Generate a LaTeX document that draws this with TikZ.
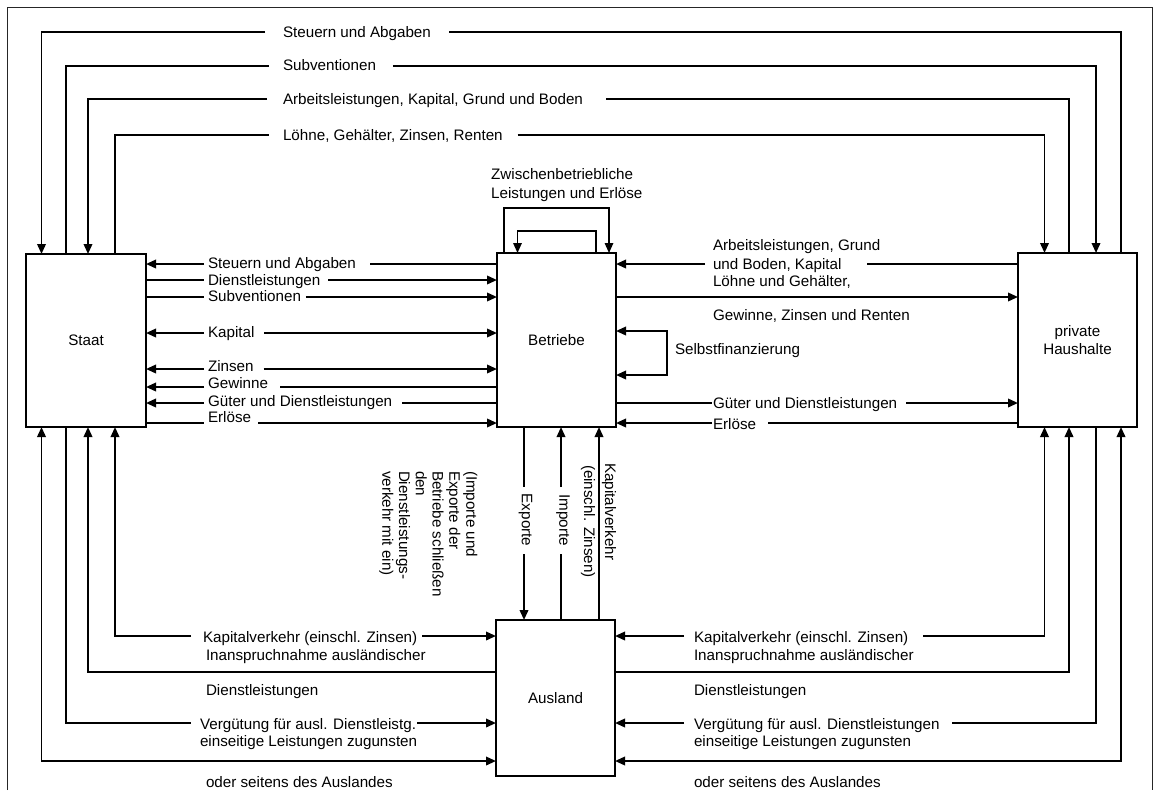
\documentclass[tikz,border=0pt]{standalone}
\usepackage{fontspec}
\setmainfont{Liberation Sans}
\usetikzlibrary{arrows.meta}
\begin{document}
\begin{tikzpicture}[x=1pt,y=-1pt,
  font=\fontsize{15.2}{18.7}\selectfont,
  thn/.style={line width=1.25pt},
  thk/.style={line width=1.95pt},
  arr/.style={thk,-{Triangle[length=10pt,width=8.5pt]}},
  barr/.style={thk,{Triangle[length=10pt,width=8.5pt]}-{Triangle[length=10pt,width=8.5pt]}},
  box/.style={draw,line width=1.3pt,inner sep=0pt,outer sep=0pt,align=center},
  lab/.style={inner sep=0pt,outer sep=0pt,anchor=west,text height=10.9pt,text depth=0pt},
  vlab/.style={inner sep=0pt,outer sep=0pt,rotate=-90},
]
\useasboundingbox (0,0) rectangle (1158,790);
% frame (open at the bottom)
\draw[line width=1.1pt, black!85] (7.5,790) -- (7.5,7.5) -- (1152.5,7.5) -- (1152.5,790);

% boxes
\node[box,minimum width=120pt,minimum height=173pt] (staat) at (86,340.5) {Staat};
\node[box,minimum width=119pt,minimum height=174pt] (betr) at (556.5,340) {Betriebe};
\node[box,minimum width=119pt,minimum height=174pt] (hh) at (1077.5,340) {private\\Haushalte};
\node[box,minimum width=119pt,minimum height=156pt] (ausl) at (555.5,698) {Ausland};

% columns
\coordinate (cA) at (41.5,0);  \coordinate (cB) at (66,0);
\coordinate (cC) at (88,0);    \coordinate (cD) at (115,0);
\coordinate (hA) at (1044.5,0); \coordinate (hB) at (1069,0);
\coordinate (hC) at (1096,0);  \coordinate (hD) at (1121,0);
\coordinate (zA) at (504,0);   \coordinate (zB) at (517.5,0);
\coordinate (zC) at (596,0);   \coordinate (zD) at (609,0);
\coordinate (eX) at (524,0);   \coordinate (iM) at (561,0);
\coordinate (kV) at (599,0);   \coordinate (sx) at (667,0);
% rows
\coordinate (r1) at (0,32);  \coordinate (r2) at (0,66);
\coordinate (r3) at (0,99);  \coordinate (r4) at (0,135);
\coordinate (m1) at (0,264); \coordinate (m2) at (0,280);
\coordinate (m3) at (0,297); \coordinate (m4) at (0,333);
\coordinate (m5) at (0,369); \coordinate (m6) at (0,387);
\coordinate (m7) at (0,403); \coordinate (m8) at (0,423);
\coordinate (s1) at (0,331); \coordinate (s2) at (0,375);
\coordinate (b1) at (0,636); \coordinate (b2) at (0,672);
\coordinate (b3) at (0,723); \coordinate (b4) at (0,761);

% ---- top: Staat <-> private Haushalte
\node[lab] (t1) at (283,32) {Steuern und Abgaben};
\draw[thn] (hh.north -| hD) |- ([xshift=18pt]t1.east |- r1);
\draw[arr] ([xshift=-18pt]t1.west |- r1) -| (staat.north -| cA);

\node[lab] (t2) at (283,65.5) {Subventionen};
\draw[thn] (staat.north -| cB) |- ([xshift=-14pt]t2.west |- r2);
\draw[arr] ([xshift=17pt]t2.east |- r2) -| (hh.north -| hC);

\node[lab] (t3) at (283,99.5) {Arbeitsleistungen, Kapital, Grund und Boden};
\draw[thn] (hh.north -| hB) |- ([xshift=23pt]t3.east |- r3);
\draw[arr] ([xshift=-16pt]t3.west |- r3) -| (staat.north -| cC);

\node[lab] (t4) at (283,134.7) {Löhne, Gehälter, Zinsen, Renten};
\draw[thn] (staat.north -| cD) |- ([xshift=-14pt]t4.west |- r4);
\draw[arr] ([xshift=15pt]t4.east |- r4) -| (hh.north -| hA);

% ---- Staat <-> Betriebe
\node[lab] (sb1) at (208,263) {Steuern und Abgaben};
\draw[arr] ([xshift=-4pt]sb1.west |- m1) -- (staat.east |- m1);
\draw[thn] (betr.west |- m1) -- ([xshift=14pt]sb1.east |- m1);

\node[lab] (sb2) at (208,280) {Dienstleistungen};
\draw[thn] (staat.east |- m2) -- ([xshift=-4pt]sb2.west |- m2);
\draw[arr] ([xshift=8pt]sb2.east |- m2) -- (betr.west |- m2);

\node[lab] (sb3) at (208,296) {Subventionen};
\draw[thn] (staat.east |- m3) -- ([xshift=-4pt]sb3.west |- m3);
\draw[arr] ([xshift=5pt]sb3.east |- m3) -- (betr.west |- m3);

\node[lab] (sb4) at (208,332) {Kapital};
\draw[arr] ([xshift=-4pt]sb4.west |- m4) -- (staat.east |- m4);
\draw[arr] ([xshift=10pt]sb4.east |- m4) -- (betr.west |- m4);

\node[lab] (sb5) at (208,366) {Zinsen};
\draw[arr] ([xshift=-4pt]sb5.west |- m5) -- (staat.east |- m5);
\draw[arr] ([xshift=10pt]sb5.east |- m5) -- (betr.west |- m5);

\node[lab] (sb6) at (208,383) {Gewinne};
\draw[arr] ([xshift=-4pt]sb6.west |- m6) -- (staat.east |- m6);
\draw[thn] (betr.west |- m6) -- ([xshift=12pt]sb6.east |- m6);

\node[lab] (sb7) at (208,401) {Güter und Dienstleistungen};
\draw[arr] ([xshift=-4pt]sb7.west |- m7) -- (staat.east |- m7);
\draw[thn] (betr.west |- m7) -- ([xshift=10pt]sb7.east |- m7);

\node[lab] (sb8) at (208,417) {Erlöse};
\draw[thn] (staat.east |- m8) -- ([xshift=-4pt]sb8.west |- m8);
\draw[arr] ([xshift=7pt]sb8.east |- m8) -- (betr.west |- m8);

% ---- Betriebe <-> private Haushalte
\node[lab] (bh1a) at (713,245) {Arbeitsleistungen, Grund};
\node[lab] (bh1b) at (713,264) {und Boden, Kapital};
\draw[arr] ([xshift=-8pt]bh1b.west |- m1) -- (betr.east |- m1);
\draw[thn] (hh.west |- m1) -- ([xshift=26pt]bh1b.east |- m1);

\node[lab] (bh2a) at (713,281) {Löhne und Gehälter,};
\node[lab] (bh2b) at (713,315) {Gewinne, Zinsen und Renten};
\draw[arr] (betr.east |- m3) -- (hh.west |- m3);

\node[lab] (sf) at (675,349) {Selbstfinanzierung};
\draw[barr] (betr.east |- s1) -| (sx |- s2) -- (betr.east |- s2);

\node[lab] (bh4) at (713,402.7) {Güter und Dienstleistungen};
\draw[thn] (betr.east |- m7) -- ([xshift=-1pt]bh4.west |- m7);
\draw[arr] ([xshift=9pt]bh4.east |- m7) -- (hh.west |- m7);

\node[lab] (bh5) at (713,423.7) {Erlöse};
\draw[arr] ([xshift=-1pt]bh5.west |- m8) -- (betr.east |- m8);
\draw[thn] (hh.west |- m8) -- ([xshift=12pt]bh5.east |- m8);

% ---- Zwischenbetriebliche Leistungen
\node[inner sep=0pt,align=left,anchor=west] (zw) at (491,184.8) {Zwischenbetriebliche\\Leistungen und Erlöse};
\draw[arr,line width=1.6pt] (betr.north -| zA) -- ++(0,-45.3) -| (betr.north -| zD);
\draw[arr,line width=1.6pt] (betr.north -| zC) -- ++(0,-22) -| (betr.north -| zB);

% ---- Betriebe <-> Ausland
\node[vlab] (ex) at (525.5,520) {Exporte};
\draw[thn] (betr.south -| eX) -- ([yshift=7pt]ex.west -| eX);
\draw[arr] ([yshift=-8pt]ex.east -| eX) -- (ausl.north -| eX);

\node[vlab] (im) at (563,520) {Importe};
\draw[thn] (ausl.north -| iM) -- ([yshift=-8pt]im.east -| iM);
\draw[arr] ([yshift=7pt]im.west -| iM) -- (betr.south -| iM);

\draw[arr] (ausl.north -| kV) -- (betr.south -| kV);
\node[vlab,anchor=base west] (kv1) at (605,463) {Kapitalverkehr};
\node[vlab,anchor=base west] (kv2) at (584.2,465) {(einschl. Zinsen)};

\node[vlab,anchor=north west,align=left,font=\fontsize{15.2}{16.8}\selectfont] (note) at (477.3,471)
  {(Importe und\\Exporte der\\Betriebe schließen\\den\\Dienstleistungs-\\verkehr mit ein)};

% ---- Staat <-> Ausland
\node[lab] (sa1) at (203,637) {Kapitalverkehr (einschl. Zinsen)};
\draw[arr] ([xshift=-12pt]sa1.west |- b1) -| (staat.south -| cD);
\draw[arr] ([xshift=5pt]sa1.east |- b1) -- (ausl.west |- b1);

\node[lab] (sa2a) at (206,654.7) {Inanspruchnahme ausländischer};
\node[lab] (sa2b) at (206,690) {Dienstleistungen};
\draw[arr] (ausl.west |- b2) -| (staat.south -| cC);

\node[lab] (sa3) at (200,724) {Vergütung für ausl. Dienstleistg.};
\draw[thn] (staat.south -| cB) |- ([xshift=-9pt]sa3.west |- b3);
\draw[arr] ([xshift=1pt]sa3.east |- b3) -- (ausl.west |- b3);

\node[lab] (sa4a) at (200,740.7) {einseitige Leistungen zugunsten};
\node[lab] (sa4b) at (206,782) {oder seitens des Auslandes};
\draw[barr] (ausl.west |- b4) -| (staat.south -| cA);

% ---- Ausland <-> private Haushalte
\node[lab] (ah1) at (694,637) {Kapitalverkehr (einschl. Zinsen)};
\draw[arr] ([xshift=-10pt]ah1.west |- b1) -- (ausl.east |- b1);
\draw[arr] ([xshift=15pt]ah1.east |- b1) -| (hh.south -| hA);

\node[lab] (ah2a) at (694,654.7) {Inanspruchnahme ausländischer};
\node[lab] (ah2b) at (694,690) {Dienstleistungen};
\draw[arr] (ausl.east |- b2) -| (hh.south -| hB);

\node[lab] (ah3) at (694,724) {Vergütung für ausl. Dienstleistungen};
\draw[arr] ([xshift=-10pt]ah3.west |- b3) -- (ausl.east |- b3);
\draw[thn] (hh.south -| hC) |- ([xshift=12pt]ah3.east |- b3);

\node[lab] (ah4a) at (694,740.7) {einseitige Leistungen zugunsten};
\node[lab] (ah4b) at (694,782) {oder seitens des Auslandes};
\draw[barr] (hh.south -| hD) |- (ausl.east |- b4);
\end{tikzpicture}
\end{document}
